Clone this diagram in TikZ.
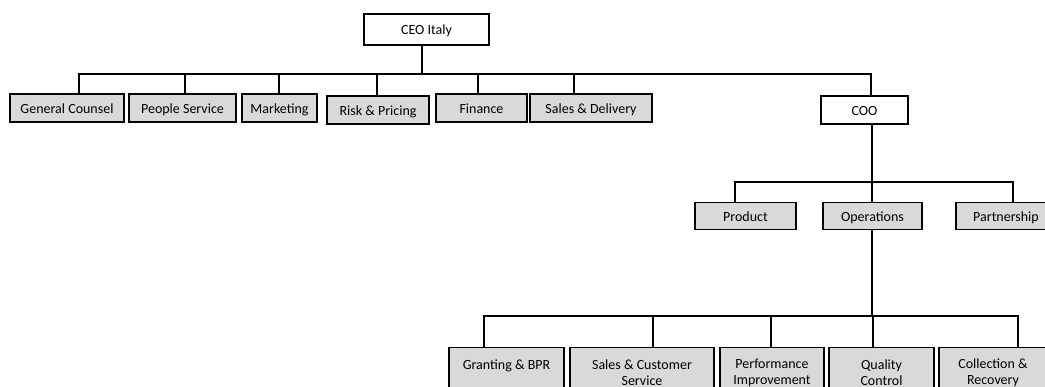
\documentclass[tikz,border=0pt]{standalone}
\usepackage{fontspec}
\setmainfont{Carlito}
\definecolor{boxgray}{HTML}{D9D9D9}
\tikzset{
  base/.style={draw, line width=1.3pt, fill=boxgray, inner sep=0pt, font=\fontsize{14}{16}\selectfont},
  unit/.style={base, minimum height=28pt, text height=11pt, text depth=0pt},
  head/.style={unit, fill=white},
  team/.style={base, anchor=north, minimum height=50pt, align=center},
  link/.style={line width=1.3pt}
}

\begin{document}
\begin{tikzpicture}[x=1pt,y=-1pt]
  \useasboundingbox (0,0) rectangle (1045,387);

  % top level
  \node[head, minimum width=125pt, minimum height=31pt] (ceo) at (426.5,29.5) {CEO Italy};
  \coordinate (busA) at (422,74);

  \node[unit, minimum width=114pt] (gc) at (67,108) {General Counsel};
  \node[unit, minimum width=107pt] (ps) at (182.5,108) {People Service};
  \node[unit, minimum width=75pt] (mk) at (279.5,108) {Marketing};
  \node[unit, minimum width=102pt] (rp) at (378,110) {Risk \& Pricing};
  \node[unit, minimum width=91pt] (fin) at (481.5,108) {Finance};
  \node[unit, minimum width=122pt] (sd) at (591,108) {Sales \& Delivery};
  \node[head, minimum width=87pt] (coo) at (864.5,110) {COO};

  \draw[link] (ceo.south -| busA) -- (busA);
  \draw[link] (busA) -| ([xshift=12pt]gc.north);
  \draw[link] (busA) -| ([xshift=2.5pt]ps.north);
  \draw[link] (busA) -| ([xshift=-0.5pt]mk.north);
  \draw[link] (busA) -| ([xshift=-1pt]rp.north);
  \draw[link] (busA) -| ([xshift=-3.5pt]fin.north);
  \draw[link] (busA) -| ([xshift=-17pt]sd.north);
  \draw[link] (busA) -| ([xshift=6.5pt]coo.north);

  % under the COO
  \coordinate (busB) at (872,182);
  \node[unit, minimum width=101pt, minimum height=27pt] (prod) at (745.5,216) {Product};
  \node[unit, minimum width=99pt, minimum height=27pt] (ops) at (872.5,216) {Operations};
  \node[unit, minimum width=100pt, minimum height=27pt] (part) at (1006,216) {Partnership};

  \draw[link] (coo.south -| busB) -- (busB);
  \draw[link] (busB) -| ([xshift=-10.5pt]prod.north);
  \draw[link] (busB) -- (ops.north -| busB);
  \draw[link] (busB) -| ([xshift=7pt]part.north);

  % under operations
  \coordinate (busC) at (872,316);
  \node[team, minimum width=115pt] (gr) at (506.5,347) {Granting \& BPR\\\mbox{}};
  \node[team, minimum width=144pt] (sc) at (642,347) {Sales \& Customer\\Service};
  \node[team, minimum width=104pt] (pi) at (772,347) {Performance\\Improvement};
  \node[team, minimum width=105pt] (qc) at (881.5,347) {Quality\\Control};
  \node[team, minimum width=108pt] (cr) at (993,347) {Collection \&\\Recovery};

  \draw[link] (ops.south -| busC) -- (busC);
  \draw[link] (busC) -| ([xshift=-22.5pt]gr.north);
  \draw[link] (busC) -| ([xshift=11pt]sc.north);
  \draw[link] (busC) -| ([xshift=-1pt]pi.north);
  \draw[link] (busC) -| ([xshift=-8.5pt]qc.north);
  \draw[link] (busC) -| ([xshift=25pt]cr.north);
\end{tikzpicture}
\end{document}
